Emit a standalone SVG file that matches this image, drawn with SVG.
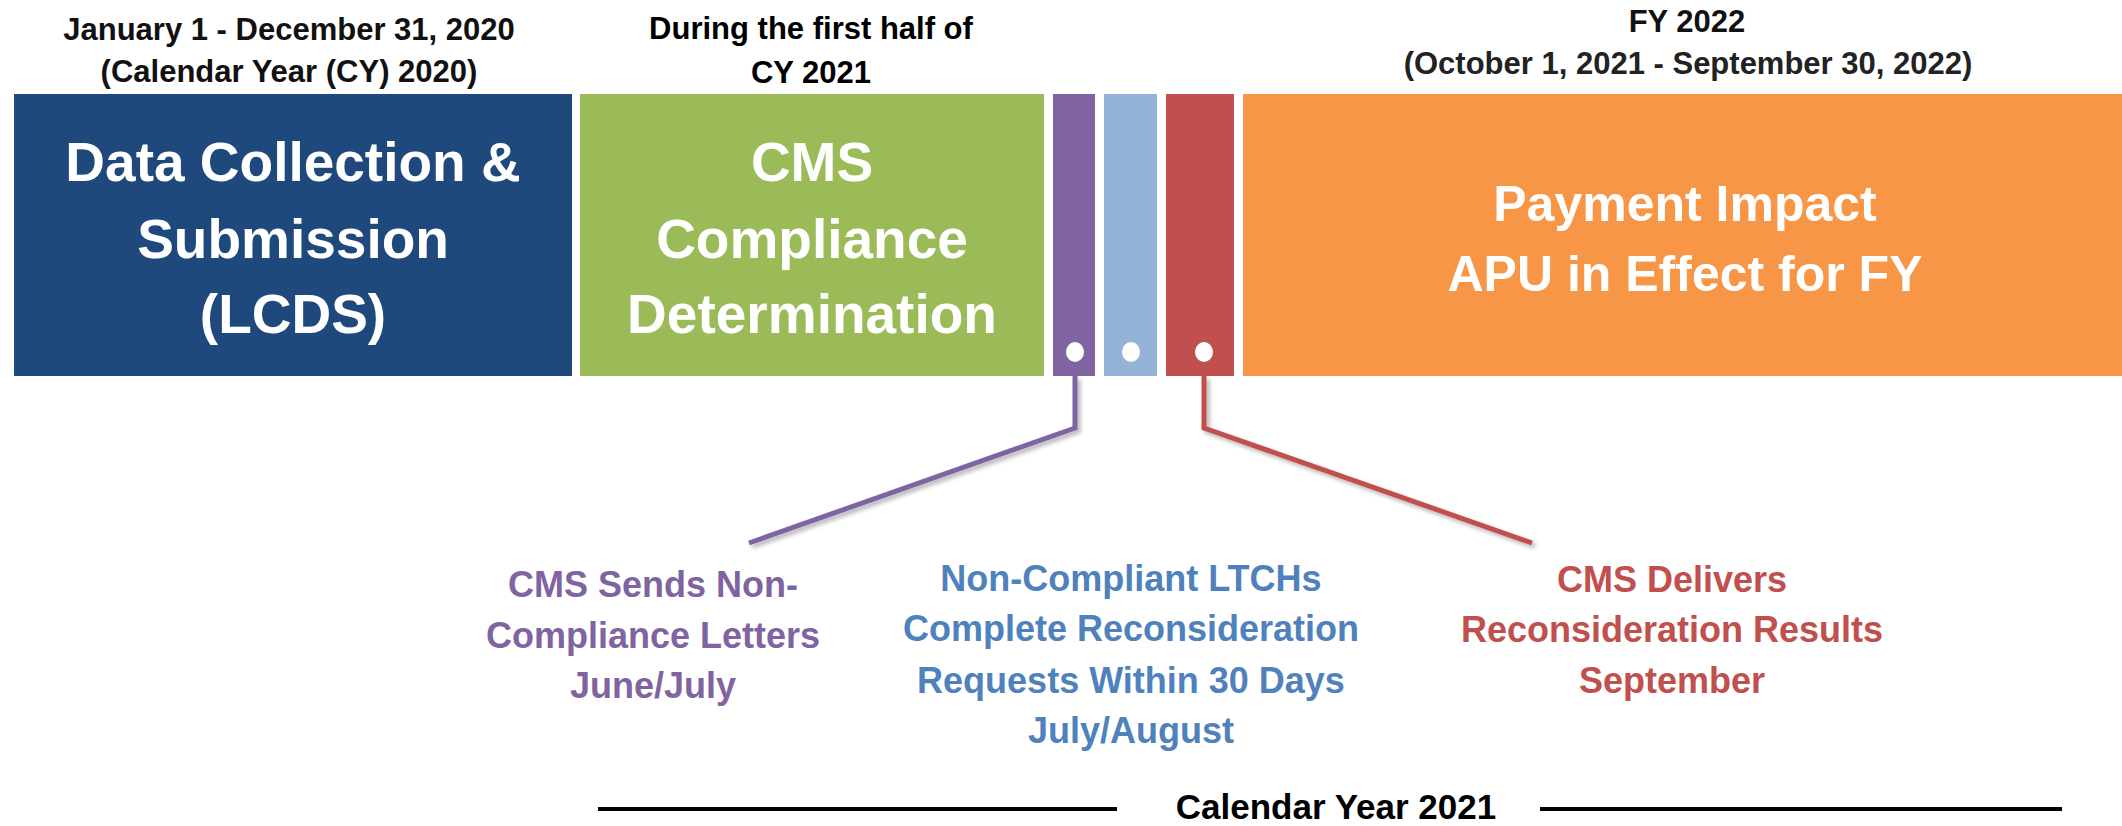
<svg xmlns="http://www.w3.org/2000/svg" width="2122" height="826" viewBox="0 0 2122 826">
<style>
.t{font-family:"Liberation Sans",Arial,sans-serif;font-weight:bold;text-anchor:middle}
.hdr{font-size:31px;fill:#111}
.big{font-size:55px;fill:#fff}
.mid{font-size:50px;fill:#fff}
.lbl{font-size:36px}
.dot{fill:#fff}
.conn{fill:none;stroke-width:5;stroke-linejoin:miter;filter:url(#sh)}
</style>
<defs>
<filter id="sh" x="-20%" y="-20%" width="140%" height="140%">
<feDropShadow dx="3" dy="3" stdDeviation="2" flood-color="#000" flood-opacity="0.3"/>
</filter>
</defs>
<rect width="2122" height="826" fill="#fff"/>

<g id="node-data-collection">
<text class="t hdr" x="289" y="40" fill="#222">January 1 - December 31, 2020</text>
<text class="t hdr" x="289" y="82" fill="#222">(Calendar Year (CY) 2020)</text>
<rect x="14" y="94" width="558" height="282" fill="#1F497D"/>
<text class="t big" x="293" y="181">Data Collection &amp;</text>
<text class="t big" x="293" y="258">Submission</text>
<text class="t big" x="293" y="333">(LCDS)</text>
</g>

<g id="node-compliance">
<text class="t hdr" x="811" y="39" style="fill:#000">During the first half of</text>
<text class="t hdr" x="811" y="83" style="fill:#000">CY 2021</text>
<rect x="580" y="94" width="464" height="282" fill="#9BBB59"/>
<text class="t big" x="812" y="181">CMS</text>
<text class="t big" x="812" y="258">Compliance</text>
<text class="t big" x="812" y="333">Determination</text>
</g>

<g id="node-letters-bar">
<rect x="1053" y="94" width="42" height="282" fill="#8064A2"/>
<ellipse class="dot" cx="1075" cy="352" rx="9" ry="10"/>
</g>

<g id="node-requests-bar">
<rect x="1104" y="94" width="53" height="282" fill="#95B3D7"/>
<ellipse class="dot" cx="1131" cy="352" rx="9" ry="10"/>
</g>

<g id="node-results-bar">
<rect x="1166" y="94" width="68" height="282" fill="#C0504D"/>
<ellipse class="dot" cx="1204" cy="352" rx="9" ry="10"/>
</g>

<g id="node-payment">
<text class="t hdr" x="1687" y="32" style="fill:#111">FY 2022</text>
<text class="t hdr" x="1688" y="74" style="fill:#222">(October 1, 2021 - September 30, 2022)</text>
<rect x="1243" y="94" width="879" height="282" fill="#F79646"/>
<text class="t mid" x="1685" y="221">Payment Impact</text>
<text class="t mid" x="1685" y="291">APU in Effect for FY</text>
</g>

<g id="connectors">
<polyline class="conn" stroke="#8064A2" points="1075,376 1075,428 749,543"/>
<polyline class="conn" stroke="#4F81BD" stroke-width="4" points="1131,376 1131,529"/>
<polyline class="conn" stroke="#C0504D" points="1204,376 1204,428 1532,543"/>
</g>

<g id="node-letters-label" fill="#8064A2">
<text class="t lbl" x="653" y="597">CMS Sends Non-</text>
<text class="t lbl" x="653" y="648">Compliance Letters</text>
<text class="t lbl" x="653" y="698">June/July</text>
</g>

<g id="node-requests-label" fill="#4F81BD">
<text class="t lbl" x="1131" y="591">Non-Compliant LTCHs</text>
<text class="t lbl" x="1131" y="641">Complete Reconsideration</text>
<text class="t lbl" x="1131" y="693">Requests Within 30 Days</text>
<text class="t lbl" x="1131" y="743">July/August</text>
</g>

<g id="node-results-label" fill="#C0504D">
<text class="t lbl" x="1672" y="592">CMS Delivers</text>
<text class="t lbl" x="1672" y="642">Reconsideration Results</text>
<text class="t lbl" x="1672" y="693">September</text>
</g>

<g id="node-calendar-year">
<line x1="598" y1="809" x2="1117" y2="809" stroke="#000" stroke-width="4"/>
<line x1="1540" y1="809" x2="2062" y2="809" stroke="#000" stroke-width="4"/>
<text class="t lbl" x="1336" y="819" fill="#000" style="font-size:35px">Calendar Year 2021</text>
</g>
</svg>
